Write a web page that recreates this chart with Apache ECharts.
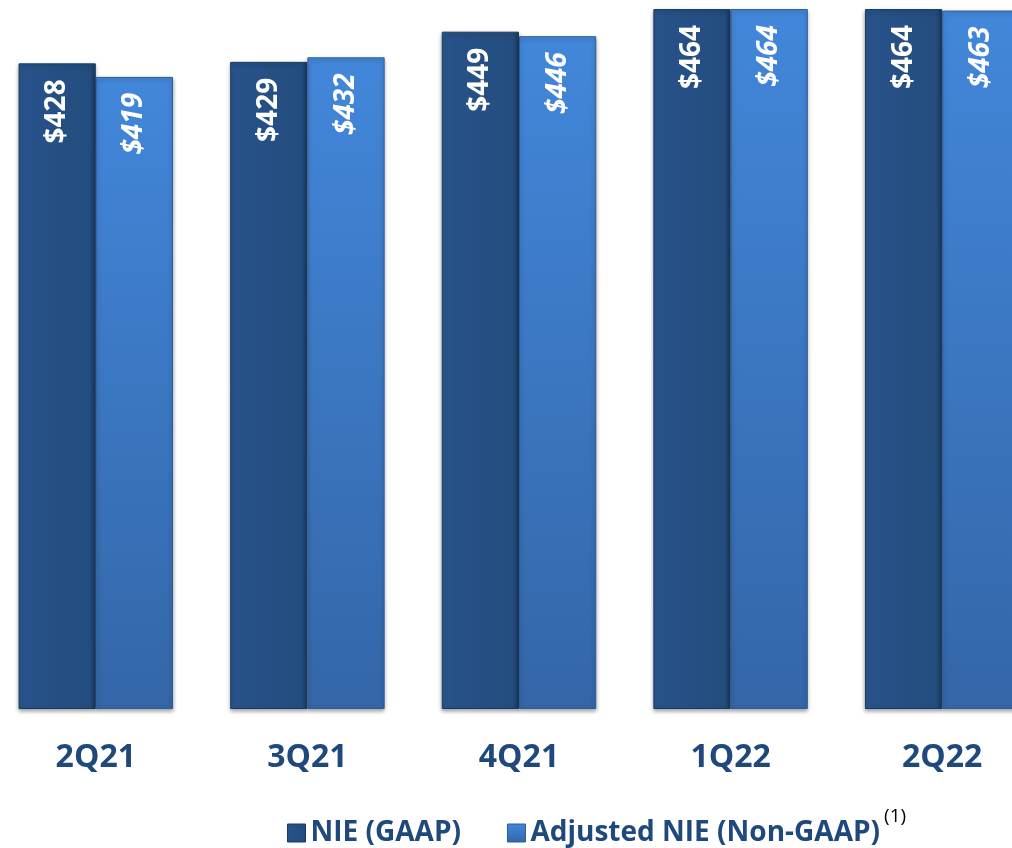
<!DOCTYPE html>
<html><head><meta charset="utf-8">
<script src="https://cdn.jsdelivr.net/npm/echarts@6/dist/echarts.min.js"></script>
<style>html,body{margin:0;padding:0;background:#fff;overflow:hidden;width:1012px;height:848px;position:relative}
#c{position:absolute;left:-10px;top:0;width:1060px;height:848px}
#l{position:absolute;left:0;top:0;width:1012px;height:848px}</style>
</head><body><div id="c"></div><div id="l"></div>
<script>
const categories = ['2Q21', '3Q21', '4Q21', '1Q22', '2Q22'];
const nieGaap = [428, 429, 449, 464, 464];
const adjNie = [419, 432, 446, 464, 463];
const seriesNames = ['NIE (GAAP)', 'Adjusted NIE (Non-GAAP)'];

const FONT = '"Open Sans", sans-serif';
const NAVY = '#1F497D';
const darkFill = new echarts.graphic.LinearGradient(0, 0, 1, 0, [
  {offset: 0, color: '#2A578C'}, {offset: 0.08, color: '#27528A'},
  {offset: 0.92, color: '#244D7E'}, {offset: 1, color: '#1C3E67'}]);
const lightFill = new echarts.graphic.LinearGradient(0, 0, 0, 1, [
  {offset: 0, color: '#4287DA'}, {offset: 1, color: '#3466A8'}]);

const chart = echarts.init(document.getElementById('c'), null, {renderer: 'canvas'});
chart.setOption({
  animation: false,
  backgroundColor: 'transparent',
  grid: {left: 0, right: 2, top: 0, bottom: 139, containLabel: false},
  xAxis: {
    type: 'category', data: categories,
    axisLine: {show: false}, axisTick: {show: false},
    axisLabel: {fontFamily: FONT, fontWeight: 'bold', fontSize: 32, color: NAVY, margin: 33}
  },
  yAxis: {type: 'value', min: 0, max: 470, show: false, splitLine: {show: false}},
  legend: {show: false},
  series: [
    {
      name: seriesNames[0], type: 'bar', data: nieGaap, barGap: '0%', barCategoryGap: '27%',
      itemStyle: {color: darkFill, borderColor: '#1A3A62', borderWidth: 1,
        shadowBlur: 4, shadowColor: 'rgba(0,0,0,0.35)', shadowOffsetY: 2},
      label: {show: true, position: 'insideTop', rotate: 90, align: 'right', verticalAlign: 'middle',
        distance: 16, formatter: '${c}', color: '#fff', fontFamily: FONT, fontWeight: 'bold', fontSize: 28}
    },
    {
      name: seriesNames[1], type: 'bar', data: adjNie,
      itemStyle: {color: lightFill, borderColor: '#2E5C98', borderWidth: 1,
        shadowBlur: 4, shadowColor: 'rgba(0,0,0,0.35)', shadowOffsetY: 2},
      label: {show: true, position: 'insideTop', rotate: 90, align: 'right', verticalAlign: 'middle',
        distance: 16, formatter: '${c}', color: '#fff', fontFamily: FONT, fontWeight: 'bold', fontStyle: 'italic', fontSize: 28}
    }
  ]
});

const leg = echarts.init(document.getElementById('l'), null, {renderer: 'canvas'});
leg.setOption({
  animation: false,
  legend: {
    bottom: -4, left: 282, itemWidth: 18, itemHeight: 18, itemGap: 46,
    icon: 'rect', selectedMode: false,
    data: [{name: seriesNames[0], itemStyle: {color: darkFill, borderColor: '#1A3A62', borderWidth: 1}},
           {name: seriesNames[1], itemStyle: {color: lightFill, borderColor: '#2E5C98', borderWidth: 1}}],
    formatter: function (n) { return n === seriesNames[1] ? '{t|' + n + '}{s|(1)}' : '{t|' + n + '}'; },
    textStyle: {
      rich: {
        t: {fontFamily: FONT, fontWeight: 'bold', fontSize: 28, color: NAVY},
        s: {fontFamily: FONT, fontSize: 19, color: '#000', padding: [0, 0, 32, 4]}
      }
    }
  },
  series: [
    {name: seriesNames[0], type: 'bar', data: []},
    {name: seriesNames[1], type: 'bar', data: []}
  ],
  xAxis: {show: false, type: 'category'}, yAxis: {show: false}
});
</script></body></html>
